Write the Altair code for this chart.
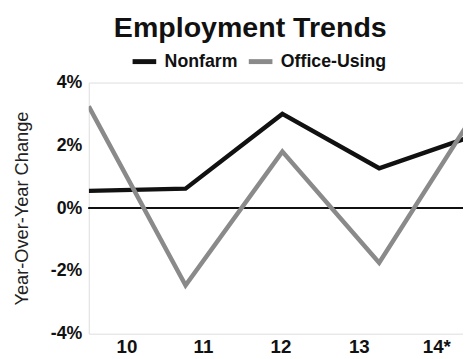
import altair as alt
import pandas as pd

# ---- data ----
years = ["10", "11", "12", "13", "14*"]
x_index = [0, 1, 2, 3, 4]
nonfarm = [0.55, 0.62, 3.0, 1.27, 2.33]
office_using = [3.24, -2.46, 1.80, -1.74, 3.09]
series_names = ["Nonfarm", "Office-Using"]
series_colors = ["#111111", "#8a8a8a"]
# where the year labels sit along the x scale (they are offset from the points in the reference)
label_positions = [0.39, 1.18, 1.98, 2.79, 3.59]
y_ticks = [-4, -2, 0, 2, 4]

rows = []
for i, xv in enumerate(x_index):
    rows.append({"x": xv, "value": nonfarm[i], "series": series_names[0]})
for i, xv in enumerate(x_index):
    rows.append({"x": xv, "value": office_using[i], "series": series_names[1]})
df = pd.DataFrame(rows)

FONT = "Liberation Sans"

pos_list = "[" + ",".join(str(p) for p in label_positions) + "]"
lab_list = "[" + ",".join("'" + y + "'" for y in years) + "]"
x_label_expr = f"{lab_list}[indexof({pos_list}, datum.value)]"

x_scale = alt.Scale(domain=[0, 3.866], nice=False, zero=False)
y_scale = alt.Scale(domain=[-4, 4], nice=False)

lines = alt.Chart(df).mark_line(strokeWidth=4.5, clip=True, strokeJoin="miter").encode(
    x=alt.X("x:Q", scale=x_scale,
            axis=alt.Axis(values=label_positions, labelExpr=x_label_expr, title=None,
                          ticks=False, domain=False, grid=False,
                          labelFont=FONT, labelFontSize=19, labelFontWeight="bold",
                          labelColor="#111111", labelPadding=4, labelFlush=False)),
    y=alt.Y("value:Q", scale=y_scale,
            axis=alt.Axis(values=y_ticks, labelExpr="datum.value + '%'",
                          title="Year-Over-Year Change", titleFont=FONT, titleFontSize=18.5,
                          titleFontWeight="normal", titleColor="#222222", titlePadding=19,
                          ticks=False, domain=False, grid=False,
                          labelFont=FONT, labelFontSize=18, labelFontWeight="bold",
                          labelColor="#111111", labelPadding=7)),
    color=alt.Color("series:N", sort=series_names,
                    scale=alt.Scale(domain=series_names, range=series_colors),
                    legend=alt.Legend(title=None, orient="none", direction="horizontal",
                                      legendX=42, legendY=-36,
                                      symbolType="stroke", symbolSize=576,
                                      symbolStrokeWidth=5, labelOffset=6,
                                      columnPadding=0,
                                      labelFont=FONT, labelFontSize=18,
                                      labelFontWeight="bold", labelColor="#111111")),
)

zero_rule = alt.Chart(df).mark_rule(color="#111111", strokeWidth=1.3).encode(
    y=alt.datum(0)
)

chart = alt.layer(zero_rule, lines).properties(
    width=380,
    height=255,
    title=alt.Title("Employment Trends", font=FONT, fontSize=29, fontWeight="bold",
                    color="#111111", anchor="middle", dx=-26, offset=4),
    autosize=alt.AutoSizeParams(type="none"),
    padding={"left": 82, "top": 73, "right": 0, "bottom": 22},
).configure_view(stroke=None).configure(background="white")

chart.save("out.html", embed_options={"renderer": "svg", "actions": False})
